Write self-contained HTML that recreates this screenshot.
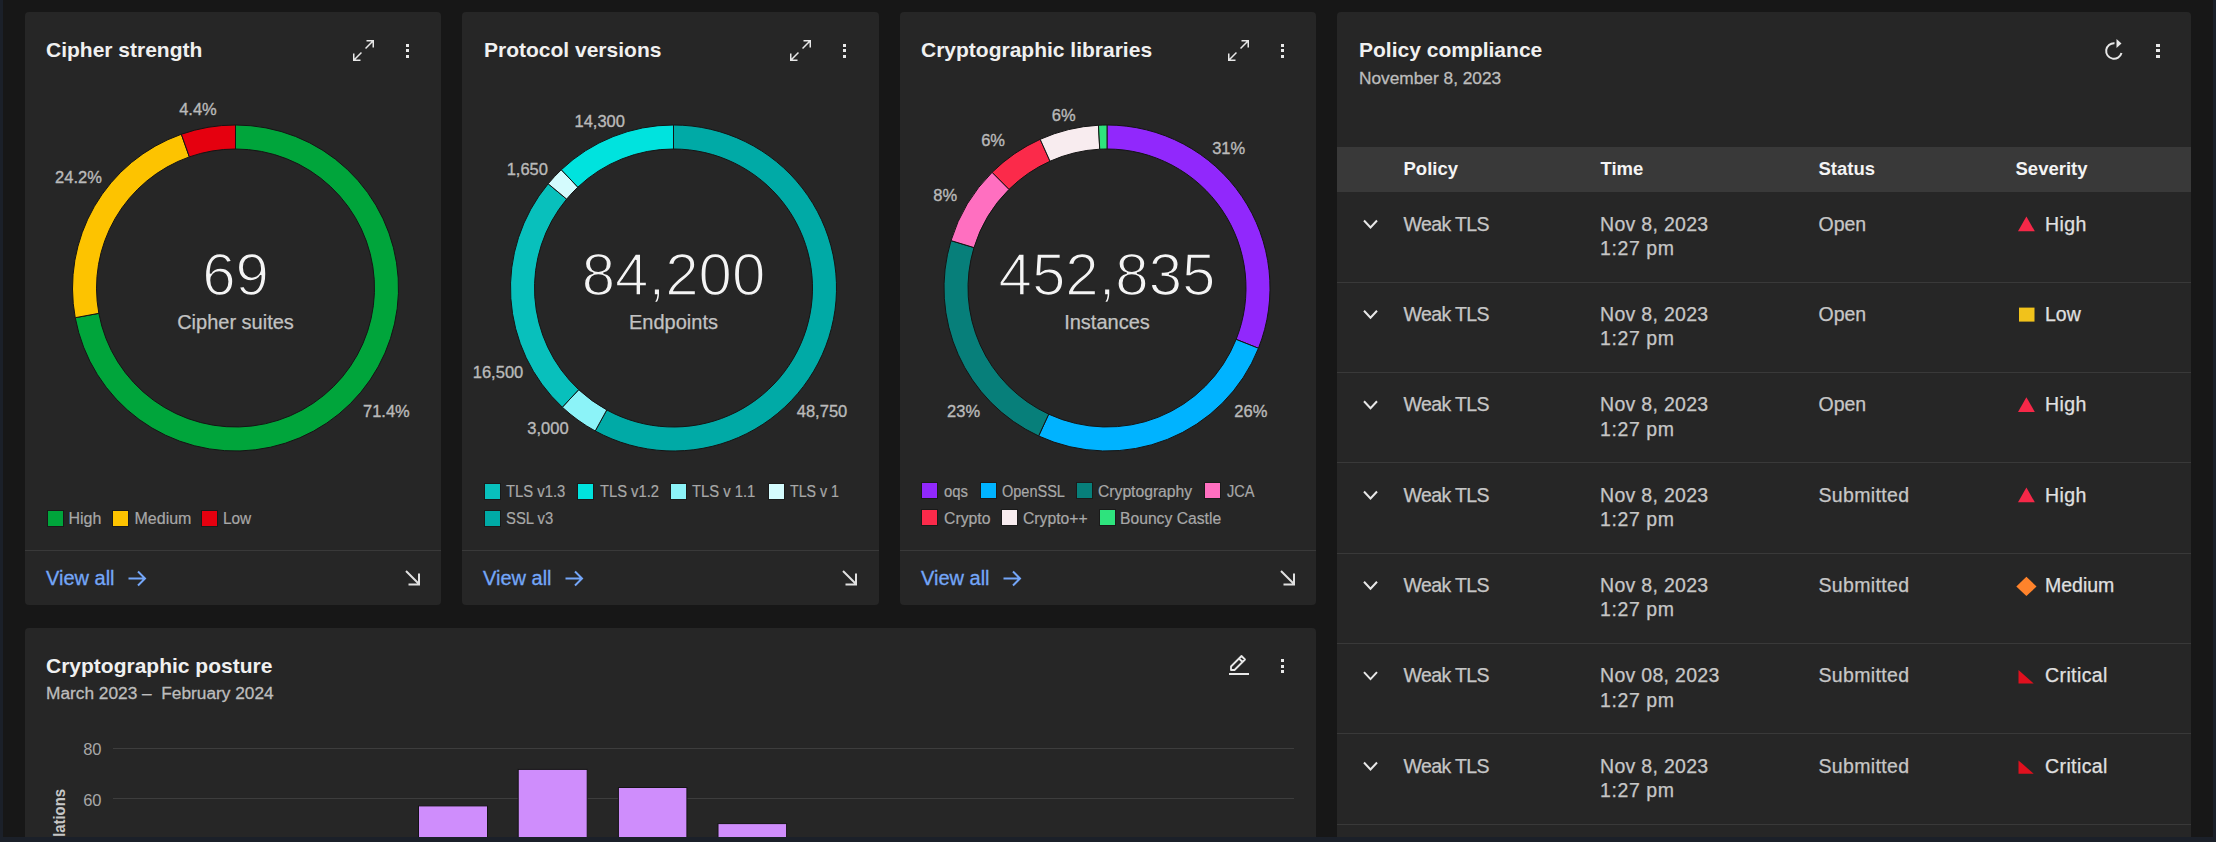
<!DOCTYPE html>
<html><head><meta charset="utf-8"><style>
html,body{margin:0;padding:0;}
body{width:2216px;height:842px;background:#171717;position:relative;overflow:hidden;font-family:"Liberation Sans", sans-serif;}
.t{position:absolute;white-space:nowrap;font-family:"Liberation Sans", sans-serif;}
svg{position:absolute;left:0;top:0;}
</style></head><body>
<div style="position:absolute;left:25px;top:12px;width:416px;height:593px;background:#262626;border-radius:4px;"></div><div style="position:absolute;left:462px;top:12px;width:417px;height:593px;background:#262626;border-radius:4px;"></div><div style="position:absolute;left:900px;top:12px;width:416px;height:593px;background:#262626;border-radius:4px;"></div><div style="position:absolute;left:1337px;top:12px;width:854px;height:830px;background:#262626;border-radius:4px;"></div><div style="position:absolute;left:25px;top:628px;width:1291px;height:220px;background:#262626;border-radius:4px;"></div>
<div class="t" style="left:46.0px;top:39.4px;font-size:21px;line-height:21px;font-weight:700;color:#f0f0f0;">Cipher strength</div><div class="t" style="left:484.0px;top:39.4px;font-size:21px;line-height:21px;font-weight:700;color:#f0f0f0;">Protocol versions</div><div class="t" style="left:921.0px;top:39.4px;font-size:21px;line-height:21px;font-weight:700;color:#f0f0f0;">Cryptographic libraries</div><div class="t" style="left:1359.0px;top:39.4px;font-size:21px;line-height:21px;font-weight:700;color:#f0f0f0;">Policy compliance</div><div class="t" style="left:1359.0px;top:69.9px;font-size:17.3px;line-height:17.3px;font-weight:400;color:#bdbdbd;-webkit-text-stroke:0.3px #bdbdbd;">November 8, 2023</div><div class="t" style="left:46.0px;top:654.6px;font-size:21px;line-height:21px;font-weight:700;color:#f0f0f0;">Cryptographic posture</div><div class="t" style="left:46.0px;top:685.4px;font-size:17.3px;line-height:17.3px;font-weight:400;color:#bdbdbd;-webkit-text-stroke:0.3px #bdbdbd;">March 2023 –&nbsp; February 2024</div><div class="t" style="left:-102.0px;width:600px;text-align:center;top:100.6px;font-size:16.5px;line-height:16.5px;font-weight:400;color:#bababa;-webkit-text-stroke:0.35px #bababa;">4.4%</div><div class="t" style="left:-221.5px;width:600px;text-align:center;top:168.9px;font-size:16.5px;line-height:16.5px;font-weight:400;color:#bababa;-webkit-text-stroke:0.35px #bababa;">24.2%</div><div class="t" style="left:86.4px;width:600px;text-align:center;top:403.1px;font-size:16.5px;line-height:16.5px;font-weight:400;color:#bababa;-webkit-text-stroke:0.35px #bababa;">71.4%</div><div class="t" style="left:299.7px;width:600px;text-align:center;top:112.7px;font-size:16.5px;line-height:16.5px;font-weight:400;color:#bababa;-webkit-text-stroke:0.35px #bababa;">14,300</div><div class="t" style="left:227.3px;width:600px;text-align:center;top:161.0px;font-size:16.5px;line-height:16.5px;font-weight:400;color:#bababa;-webkit-text-stroke:0.35px #bababa;">1,650</div><div class="t" style="left:198.0px;width:600px;text-align:center;top:364.0px;font-size:16.5px;line-height:16.5px;font-weight:400;color:#bababa;-webkit-text-stroke:0.35px #bababa;">16,500</div><div class="t" style="left:248.0px;width:600px;text-align:center;top:419.8px;font-size:16.5px;line-height:16.5px;font-weight:400;color:#bababa;-webkit-text-stroke:0.35px #bababa;">3,000</div><div class="t" style="left:522.0px;width:600px;text-align:center;top:403.0px;font-size:16.5px;line-height:16.5px;font-weight:400;color:#bababa;-webkit-text-stroke:0.35px #bababa;">48,750</div><div class="t" style="left:763.8px;width:600px;text-align:center;top:107.4px;font-size:16.5px;line-height:16.5px;font-weight:400;color:#bababa;-webkit-text-stroke:0.35px #bababa;">6%</div><div class="t" style="left:693.1px;width:600px;text-align:center;top:132.3px;font-size:16.5px;line-height:16.5px;font-weight:400;color:#bababa;-webkit-text-stroke:0.35px #bababa;">6%</div><div class="t" style="left:645.2px;width:600px;text-align:center;top:186.7px;font-size:16.5px;line-height:16.5px;font-weight:400;color:#bababa;-webkit-text-stroke:0.35px #bababa;">8%</div><div class="t" style="left:928.7px;width:600px;text-align:center;top:140.4px;font-size:16.5px;line-height:16.5px;font-weight:400;color:#bababa;-webkit-text-stroke:0.35px #bababa;">31%</div><div class="t" style="left:663.6px;width:600px;text-align:center;top:403.1px;font-size:16.5px;line-height:16.5px;font-weight:400;color:#bababa;-webkit-text-stroke:0.35px #bababa;">23%</div><div class="t" style="left:950.8px;width:600px;text-align:center;top:403.0px;font-size:16.5px;line-height:16.5px;font-weight:400;color:#bababa;-webkit-text-stroke:0.35px #bababa;">26%</div><div class="t" style="left:-64.5px;width:600px;text-align:center;top:244.7px;font-size:60px;line-height:60px;font-weight:400;color:#f4f4f4;-webkit-text-stroke:1.6px #262626;">69</div><div class="t" style="left:-64.5px;width:600px;text-align:center;top:312.1px;font-size:20px;line-height:20px;font-weight:400;color:#c2c2c2;-webkit-text-stroke:0.25px #c2c2c2;">Cipher suites</div><div class="t" style="left:373.5px;width:600px;text-align:center;top:244.7px;font-size:60px;line-height:60px;font-weight:400;color:#f4f4f4;-webkit-text-stroke:1.6px #262626;">84,200</div><div class="t" style="left:373.5px;width:600px;text-align:center;top:312.1px;font-size:20px;line-height:20px;font-weight:400;color:#c2c2c2;-webkit-text-stroke:0.25px #c2c2c2;">Endpoints</div><div class="t" style="left:807.0px;width:600px;text-align:center;top:244.7px;font-size:60px;line-height:60px;font-weight:400;color:#f4f4f4;-webkit-text-stroke:1.6px #262626;">452,835</div><div class="t" style="left:807.0px;width:600px;text-align:center;top:312.1px;font-size:20px;line-height:20px;font-weight:400;color:#c2c2c2;-webkit-text-stroke:0.25px #c2c2c2;">Instances</div><div style="position:absolute;left:46.5px;top:509.5px;width:17px;height:17px;background:#00a53b;box-sizing:border-box;border:1px solid #1a1a1a;"></div><div class="t" style="left:68.5px;top:510.8px;font-size:16px;line-height:16px;font-weight:400;color:#a8a8a8;-webkit-text-stroke:0.2px #a8a8a8;transform:scaleX(1.0);transform-origin:0 0;">High</div><div style="position:absolute;left:112px;top:509.5px;width:17px;height:17px;background:#fdc300;box-sizing:border-box;border:1px solid #1a1a1a;"></div><div class="t" style="left:134.5px;top:510.8px;font-size:16px;line-height:16px;font-weight:400;color:#a8a8a8;-webkit-text-stroke:0.2px #a8a8a8;transform:scaleX(1.0);transform-origin:0 0;">Medium</div><div style="position:absolute;left:201px;top:509.5px;width:17px;height:17px;background:#e5000f;box-sizing:border-box;border:1px solid #1a1a1a;"></div><div class="t" style="left:223.0px;top:510.8px;font-size:16px;line-height:16px;font-weight:400;color:#a8a8a8;-webkit-text-stroke:0.2px #a8a8a8;transform:scaleX(0.96);transform-origin:0 0;">Low</div><div style="position:absolute;left:484px;top:482.5px;width:17px;height:17px;background:#08c0bc;box-sizing:border-box;border:1px solid #1a1a1a;"></div><div class="t" style="left:506.0px;top:483.5px;font-size:16px;line-height:16px;font-weight:400;color:#a8a8a8;-webkit-text-stroke:0.2px #a8a8a8;transform:scaleX(0.925);transform-origin:0 0;">TLS v1.3</div><div style="position:absolute;left:577px;top:482.5px;width:17px;height:17px;background:#00e3de;box-sizing:border-box;border:1px solid #1a1a1a;"></div><div class="t" style="left:599.5px;top:483.5px;font-size:16px;line-height:16px;font-weight:400;color:#a8a8a8;-webkit-text-stroke:0.2px #a8a8a8;transform:scaleX(0.92);transform-origin:0 0;">TLS v1.2</div><div style="position:absolute;left:670.3px;top:482.5px;width:17px;height:17px;background:#8cf3f8;box-sizing:border-box;border:1px solid #1a1a1a;"></div><div class="t" style="left:692.0px;top:483.5px;font-size:16px;line-height:16px;font-weight:400;color:#a8a8a8;-webkit-text-stroke:0.2px #a8a8a8;transform:scaleX(0.925);transform-origin:0 0;">TLS v 1.1</div><div style="position:absolute;left:767.5px;top:482.5px;width:17px;height:17px;background:#d4fbfd;box-sizing:border-box;border:1px solid #1a1a1a;"></div><div class="t" style="left:789.5px;top:483.5px;font-size:16px;line-height:16px;font-weight:400;color:#a8a8a8;-webkit-text-stroke:0.2px #a8a8a8;transform:scaleX(0.887);transform-origin:0 0;">TLS v 1</div><div style="position:absolute;left:484px;top:510px;width:17px;height:17px;background:#00aaa6;box-sizing:border-box;border:1px solid #1a1a1a;"></div><div class="t" style="left:506.0px;top:511.0px;font-size:16px;line-height:16px;font-weight:400;color:#a8a8a8;-webkit-text-stroke:0.2px #a8a8a8;transform:scaleX(0.926);transform-origin:0 0;">SSL v3</div><div style="position:absolute;left:921.4px;top:482.3px;width:17px;height:17px;background:#9128fc;box-sizing:border-box;border:1px solid #1a1a1a;"></div><div class="t" style="left:943.5px;top:483.5px;font-size:16px;line-height:16px;font-weight:400;color:#a8a8a8;-webkit-text-stroke:0.2px #a8a8a8;transform:scaleX(0.93);transform-origin:0 0;">oqs</div><div style="position:absolute;left:980.2px;top:482.3px;width:17px;height:17px;background:#00b3ff;box-sizing:border-box;border:1px solid #1a1a1a;"></div><div class="t" style="left:1002.0px;top:483.5px;font-size:16px;line-height:16px;font-weight:400;color:#a8a8a8;-webkit-text-stroke:0.2px #a8a8a8;transform:scaleX(0.906);transform-origin:0 0;">OpenSSL</div><div style="position:absolute;left:1076px;top:482.3px;width:17px;height:17px;background:#077f7a;box-sizing:border-box;border:1px solid #1a1a1a;"></div><div class="t" style="left:1098.0px;top:483.5px;font-size:16px;line-height:16px;font-weight:400;color:#a8a8a8;-webkit-text-stroke:0.2px #a8a8a8;transform:scaleX(0.98);transform-origin:0 0;">Cryptography</div><div style="position:absolute;left:1204.4px;top:482.3px;width:17px;height:17px;background:#ff6fc0;box-sizing:border-box;border:1px solid #1a1a1a;"></div><div class="t" style="left:1226.5px;top:483.5px;font-size:16px;line-height:16px;font-weight:400;color:#a8a8a8;-webkit-text-stroke:0.2px #a8a8a8;transform:scaleX(0.91);transform-origin:0 0;">JCA</div><div style="position:absolute;left:921.4px;top:509.4px;width:17px;height:17px;background:#fb2a4a;box-sizing:border-box;border:1px solid #1a1a1a;"></div><div class="t" style="left:943.5px;top:510.8px;font-size:16px;line-height:16px;font-weight:400;color:#a8a8a8;-webkit-text-stroke:0.2px #a8a8a8;transform:scaleX(0.985);transform-origin:0 0;">Crypto</div><div style="position:absolute;left:1000.5px;top:509.4px;width:17px;height:17px;background:#f8ecef;box-sizing:border-box;border:1px solid #1a1a1a;"></div><div class="t" style="left:1022.5px;top:510.8px;font-size:16px;line-height:16px;font-weight:400;color:#a8a8a8;-webkit-text-stroke:0.2px #a8a8a8;transform:scaleX(0.983);transform-origin:0 0;">Crypto++</div><div style="position:absolute;left:1098.8px;top:509.4px;width:17px;height:17px;background:#2ee37d;box-sizing:border-box;border:1px solid #1a1a1a;"></div><div class="t" style="left:1120.0px;top:510.8px;font-size:16px;line-height:16px;font-weight:400;color:#a8a8a8;-webkit-text-stroke:0.2px #a8a8a8;transform:scaleX(0.98);transform-origin:0 0;">Bouncy Castle</div><div style="position:absolute;left:25px;top:550px;width:416px;height:1px;background:#393939;"></div><div class="t" style="left:46.0px;top:568.4px;font-size:20px;line-height:20px;font-weight:400;color:#74a6f8;-webkit-text-stroke:0.3px #74a6f8;">View all</div><div style="position:absolute;left:462px;top:550px;width:417px;height:1px;background:#393939;"></div><div class="t" style="left:483.0px;top:568.4px;font-size:20px;line-height:20px;font-weight:400;color:#74a6f8;-webkit-text-stroke:0.3px #74a6f8;">View all</div><div style="position:absolute;left:900px;top:550px;width:416px;height:1px;background:#393939;"></div><div class="t" style="left:921.0px;top:568.4px;font-size:20px;line-height:20px;font-weight:400;color:#74a6f8;-webkit-text-stroke:0.3px #74a6f8;">View all</div><div style="position:absolute;left:405.85px;top:43.5px;width:3.5px;height:3px;background:#e8e8e8;"></div><div style="position:absolute;left:405.85px;top:49.1px;width:3.5px;height:3px;background:#e8e8e8;"></div><div style="position:absolute;left:405.85px;top:54.7px;width:3.5px;height:3px;background:#e8e8e8;"></div><div style="position:absolute;left:842.85px;top:43.5px;width:3.5px;height:3px;background:#e8e8e8;"></div><div style="position:absolute;left:842.85px;top:49.1px;width:3.5px;height:3px;background:#e8e8e8;"></div><div style="position:absolute;left:842.85px;top:54.7px;width:3.5px;height:3px;background:#e8e8e8;"></div><div style="position:absolute;left:1280.85px;top:43.5px;width:3.5px;height:3px;background:#e8e8e8;"></div><div style="position:absolute;left:1280.85px;top:49.1px;width:3.5px;height:3px;background:#e8e8e8;"></div><div style="position:absolute;left:1280.85px;top:54.7px;width:3.5px;height:3px;background:#e8e8e8;"></div><div style="position:absolute;left:2156.25px;top:43.5px;width:3.5px;height:3px;background:#e8e8e8;"></div><div style="position:absolute;left:2156.25px;top:49.1px;width:3.5px;height:3px;background:#e8e8e8;"></div><div style="position:absolute;left:2156.25px;top:54.7px;width:3.5px;height:3px;background:#e8e8e8;"></div><div style="position:absolute;left:1280.95px;top:659.0px;width:3.5px;height:3px;background:#e8e8e8;"></div><div style="position:absolute;left:1280.95px;top:664.6px;width:3.5px;height:3px;background:#e8e8e8;"></div><div style="position:absolute;left:1280.95px;top:670.2px;width:3.5px;height:3px;background:#e8e8e8;"></div><div style="position:absolute;left:1337px;top:147px;width:854px;height:45px;background:#393939;"></div><div class="t" style="left:1403.5px;top:160.3px;font-size:18.5px;line-height:18.5px;font-weight:700;color:#f4f4f4;">Policy</div><div class="t" style="left:1600.5px;top:160.3px;font-size:18.5px;line-height:18.5px;font-weight:700;color:#f4f4f4;">Time</div><div class="t" style="left:1818.5px;top:160.3px;font-size:18.5px;line-height:18.5px;font-weight:700;color:#f4f4f4;">Status</div><div class="t" style="left:2015.5px;top:160.3px;font-size:18.5px;line-height:18.5px;font-weight:700;color:#f4f4f4;">Severity</div><div class="t" style="left:1403.5px;top:214.7px;font-size:19.5px;line-height:19.5px;font-weight:400;color:#c6c6c6;letter-spacing:-0.6px;-webkit-text-stroke:0.25px #c6c6c6;">Weak TLS</div><div class="t" style="left:1600.0px;top:214.7px;font-size:19.5px;line-height:19.5px;font-weight:400;color:#c6c6c6;letter-spacing:0.3px;-webkit-text-stroke:0.25px #c6c6c6;">Nov 8, 2023</div><div class="t" style="left:1600.0px;top:239.0px;font-size:19.5px;line-height:19.5px;font-weight:400;color:#c6c6c6;letter-spacing:0.6px;-webkit-text-stroke:0.25px #c6c6c6;">1:27 pm</div><div class="t" style="left:1818.5px;top:214.7px;font-size:19.5px;line-height:19.5px;font-weight:400;color:#c6c6c6;-webkit-text-stroke:0.25px #c6c6c6;">Open</div><div class="t" style="left:2045.0px;top:214.7px;font-size:19.5px;line-height:19.5px;font-weight:400;color:#e0e0e0;letter-spacing:0.4px;-webkit-text-stroke:0.25px #e0e0e0;">High</div><div style="position:absolute;left:1337px;top:282px;width:854px;height:1px;background:#393939;"></div><div class="t" style="left:1403.5px;top:305.0px;font-size:19.5px;line-height:19.5px;font-weight:400;color:#c6c6c6;letter-spacing:-0.6px;-webkit-text-stroke:0.25px #c6c6c6;">Weak TLS</div><div class="t" style="left:1600.0px;top:305.0px;font-size:19.5px;line-height:19.5px;font-weight:400;color:#c6c6c6;letter-spacing:0.3px;-webkit-text-stroke:0.25px #c6c6c6;">Nov 8, 2023</div><div class="t" style="left:1600.0px;top:329.3px;font-size:19.5px;line-height:19.5px;font-weight:400;color:#c6c6c6;letter-spacing:0.6px;-webkit-text-stroke:0.25px #c6c6c6;">1:27 pm</div><div class="t" style="left:1818.5px;top:305.0px;font-size:19.5px;line-height:19.5px;font-weight:400;color:#c6c6c6;-webkit-text-stroke:0.25px #c6c6c6;">Open</div><div class="t" style="left:2045.0px;top:305.0px;font-size:19.5px;line-height:19.5px;font-weight:400;color:#e0e0e0;-webkit-text-stroke:0.25px #e0e0e0;">Low</div><div style="position:absolute;left:1337px;top:372px;width:854px;height:1px;background:#393939;"></div><div class="t" style="left:1403.5px;top:395.4px;font-size:19.5px;line-height:19.5px;font-weight:400;color:#c6c6c6;letter-spacing:-0.6px;-webkit-text-stroke:0.25px #c6c6c6;">Weak TLS</div><div class="t" style="left:1600.0px;top:395.4px;font-size:19.5px;line-height:19.5px;font-weight:400;color:#c6c6c6;letter-spacing:0.3px;-webkit-text-stroke:0.25px #c6c6c6;">Nov 8, 2023</div><div class="t" style="left:1600.0px;top:419.7px;font-size:19.5px;line-height:19.5px;font-weight:400;color:#c6c6c6;letter-spacing:0.6px;-webkit-text-stroke:0.25px #c6c6c6;">1:27 pm</div><div class="t" style="left:1818.5px;top:395.4px;font-size:19.5px;line-height:19.5px;font-weight:400;color:#c6c6c6;-webkit-text-stroke:0.25px #c6c6c6;">Open</div><div class="t" style="left:2045.0px;top:395.4px;font-size:19.5px;line-height:19.5px;font-weight:400;color:#e0e0e0;letter-spacing:0.4px;-webkit-text-stroke:0.25px #e0e0e0;">High</div><div style="position:absolute;left:1337px;top:462px;width:854px;height:1px;background:#393939;"></div><div class="t" style="left:1403.5px;top:485.7px;font-size:19.5px;line-height:19.5px;font-weight:400;color:#c6c6c6;letter-spacing:-0.6px;-webkit-text-stroke:0.25px #c6c6c6;">Weak TLS</div><div class="t" style="left:1600.0px;top:485.7px;font-size:19.5px;line-height:19.5px;font-weight:400;color:#c6c6c6;letter-spacing:0.3px;-webkit-text-stroke:0.25px #c6c6c6;">Nov 8, 2023</div><div class="t" style="left:1600.0px;top:510.0px;font-size:19.5px;line-height:19.5px;font-weight:400;color:#c6c6c6;letter-spacing:0.6px;-webkit-text-stroke:0.25px #c6c6c6;">1:27 pm</div><div class="t" style="left:1818.5px;top:485.7px;font-size:19.5px;line-height:19.5px;font-weight:400;color:#c6c6c6;letter-spacing:0.35px;-webkit-text-stroke:0.25px #c6c6c6;">Submitted</div><div class="t" style="left:2045.0px;top:485.7px;font-size:19.5px;line-height:19.5px;font-weight:400;color:#e0e0e0;letter-spacing:0.4px;-webkit-text-stroke:0.25px #e0e0e0;">High</div><div style="position:absolute;left:1337px;top:553px;width:854px;height:1px;background:#393939;"></div><div class="t" style="left:1403.5px;top:576.0px;font-size:19.5px;line-height:19.5px;font-weight:400;color:#c6c6c6;letter-spacing:-0.6px;-webkit-text-stroke:0.25px #c6c6c6;">Weak TLS</div><div class="t" style="left:1600.0px;top:576.0px;font-size:19.5px;line-height:19.5px;font-weight:400;color:#c6c6c6;letter-spacing:0.3px;-webkit-text-stroke:0.25px #c6c6c6;">Nov 8, 2023</div><div class="t" style="left:1600.0px;top:600.3px;font-size:19.5px;line-height:19.5px;font-weight:400;color:#c6c6c6;letter-spacing:0.6px;-webkit-text-stroke:0.25px #c6c6c6;">1:27 pm</div><div class="t" style="left:1818.5px;top:576.0px;font-size:19.5px;line-height:19.5px;font-weight:400;color:#c6c6c6;letter-spacing:0.35px;-webkit-text-stroke:0.25px #c6c6c6;">Submitted</div><div class="t" style="left:2045.0px;top:576.0px;font-size:19.5px;line-height:19.5px;font-weight:400;color:#e0e0e0;-webkit-text-stroke:0.25px #e0e0e0;">Medium</div><div style="position:absolute;left:1337px;top:643px;width:854px;height:1px;background:#393939;"></div><div class="t" style="left:1403.5px;top:666.3px;font-size:19.5px;line-height:19.5px;font-weight:400;color:#c6c6c6;letter-spacing:-0.6px;-webkit-text-stroke:0.25px #c6c6c6;">Weak TLS</div><div class="t" style="left:1600.0px;top:666.3px;font-size:19.5px;line-height:19.5px;font-weight:400;color:#c6c6c6;letter-spacing:0.3px;-webkit-text-stroke:0.25px #c6c6c6;">Nov 08, 2023</div><div class="t" style="left:1600.0px;top:690.6px;font-size:19.5px;line-height:19.5px;font-weight:400;color:#c6c6c6;letter-spacing:0.6px;-webkit-text-stroke:0.25px #c6c6c6;">1:27 pm</div><div class="t" style="left:1818.5px;top:666.3px;font-size:19.5px;line-height:19.5px;font-weight:400;color:#c6c6c6;letter-spacing:0.35px;-webkit-text-stroke:0.25px #c6c6c6;">Submitted</div><div class="t" style="left:2045.0px;top:666.3px;font-size:19.5px;line-height:19.5px;font-weight:400;color:#e0e0e0;letter-spacing:0.4px;-webkit-text-stroke:0.25px #e0e0e0;">Critical</div><div style="position:absolute;left:1337px;top:733px;width:854px;height:1px;background:#393939;"></div><div class="t" style="left:1403.5px;top:756.7px;font-size:19.5px;line-height:19.5px;font-weight:400;color:#c6c6c6;letter-spacing:-0.6px;-webkit-text-stroke:0.25px #c6c6c6;">Weak TLS</div><div class="t" style="left:1600.0px;top:756.7px;font-size:19.5px;line-height:19.5px;font-weight:400;color:#c6c6c6;letter-spacing:0.3px;-webkit-text-stroke:0.25px #c6c6c6;">Nov 8, 2023</div><div class="t" style="left:1600.0px;top:781.0px;font-size:19.5px;line-height:19.5px;font-weight:400;color:#c6c6c6;letter-spacing:0.6px;-webkit-text-stroke:0.25px #c6c6c6;">1:27 pm</div><div class="t" style="left:1818.5px;top:756.7px;font-size:19.5px;line-height:19.5px;font-weight:400;color:#c6c6c6;letter-spacing:0.35px;-webkit-text-stroke:0.25px #c6c6c6;">Submitted</div><div class="t" style="left:2045.0px;top:756.7px;font-size:19.5px;line-height:19.5px;font-weight:400;color:#e0e0e0;letter-spacing:0.4px;-webkit-text-stroke:0.25px #e0e0e0;">Critical</div><div style="position:absolute;left:1337px;top:824px;width:854px;height:1px;background:#393939;"></div><div class="t" style="left:-498.5px;width:600px;text-align:right;top:741.0px;font-size:16.5px;line-height:16.5px;font-weight:400;color:#a8a8a8;">80</div><div class="t" style="left:-498.5px;width:600px;text-align:right;top:791.5px;font-size:16.5px;line-height:16.5px;font-weight:400;color:#a8a8a8;">60</div><div style="position:absolute;left:113px;top:748px;width:1181px;height:1px;background:#3d3d3d;"></div><div style="position:absolute;left:113px;top:798px;width:1181px;height:1px;background:#3d3d3d;"></div><div class="t" style="left:50px;top:789px;width:20px;height:48px;overflow:hidden;"><div style="position:absolute;right:0;top:0;width:200px;text-align:right;transform-origin:100% 0;transform:translateX(-19px) rotate(-90deg) scaleX(0.9);font-size:16.5px;line-height:16px;font-weight:700;color:#c6c6c6;white-space:nowrap;">Violations</div></div>
<svg width="2216" height="842" viewBox="0 0 2216 842"><path d="M235.50,125.00 A163,163 0 1 1 75.23,317.70 L98.83,313.33 A139,139 0 1 0 235.50,149.00 Z" fill="#00a53b" stroke="#141414" stroke-width="1"/><path d="M75.23,317.70 A163,163 0 0 1 181.36,134.25 L189.33,156.89 A139,139 0 0 0 98.83,313.33 Z" fill="#fdc300" stroke="#141414" stroke-width="1"/><path d="M181.36,134.25 A163,163 0 0 1 235.50,125.00 L235.50,149.00 A139,139 0 0 0 189.33,156.89 Z" fill="#e5000f" stroke="#141414" stroke-width="1"/><path d="M673.50,125.00 A163,163 0 1 1 595.22,430.97 L606.75,409.92 A139,139 0 1 0 673.50,149.00 Z" fill="#00aaa6" stroke="#141414" stroke-width="1"/><path d="M595.22,430.97 A163,163 0 0 1 562.33,407.21 L578.70,389.66 A139,139 0 0 0 606.75,409.92 Z" fill="#8cf3f8" stroke="#141414" stroke-width="1"/><path d="M562.33,407.21 A163,163 0 0 1 548.18,183.77 L566.63,199.12 A139,139 0 0 0 578.70,389.66 Z" fill="#08c0bc" stroke="#141414" stroke-width="1"/><path d="M548.18,183.77 A163,163 0 0 1 561.30,169.76 L577.82,187.17 A139,139 0 0 0 566.63,199.12 Z" fill="#d4fbfd" stroke="#141414" stroke-width="1"/><path d="M561.30,169.76 A163,163 0 0 1 673.50,125.00 L673.50,149.00 A139,139 0 0 0 577.82,187.17 Z" fill="#00e3de" stroke="#141414" stroke-width="1"/><path d="M1107.00,125.00 A163,163 0 0 1 1258.45,348.27 L1236.15,339.39 A139,139 0 0 0 1107.00,149.00 Z" fill="#9128fc" stroke="#141414" stroke-width="1"/><path d="M1258.45,348.27 A163,163 0 0 1 1038.63,435.97 L1048.70,414.18 A139,139 0 0 0 1236.15,339.39 Z" fill="#00b3ff" stroke="#141414" stroke-width="1"/><path d="M1038.63,435.97 A163,163 0 0 1 951.04,240.62 L974.00,247.59 A139,139 0 0 0 1048.70,414.18 Z" fill="#077f7a" stroke="#141414" stroke-width="1"/><path d="M951.04,240.62 A163,163 0 0 1 992.14,172.34 L1009.06,189.37 A139,139 0 0 0 974.00,247.59 Z" fill="#ff6fc0" stroke="#141414" stroke-width="1"/><path d="M992.14,172.34 A163,163 0 0 1 1040.18,139.32 L1050.02,161.22 A139,139 0 0 0 1009.06,189.37 Z" fill="#fb2a4a" stroke="#141414" stroke-width="1"/><path d="M1040.18,139.32 A163,163 0 0 1 1098.47,125.22 L1099.73,149.19 A139,139 0 0 0 1050.02,161.22 Z" fill="#f8ecef" stroke="#141414" stroke-width="1"/><path d="M1098.47,125.22 A163,163 0 0 1 1107.00,125.00 L1107.00,149.00 A139,139 0 0 0 1099.73,149.19 Z" fill="#2ee37d" stroke="#141414" stroke-width="1"/><path d="M128.5,578.5 H145 M138,571.5 L145,578.5 L138,585.5" fill="none" stroke="#74a6f8" stroke-width="2"/><path d="M406,571 L419,584 M419,573.5 V585 M408.5,584.5 H420" fill="none" stroke="#e0e0e0" stroke-width="2"/><path d="M565.5,578.5 H582 M575,571.5 L582,578.5 L575,585.5" fill="none" stroke="#74a6f8" stroke-width="2"/><path d="M843,571 L856,584 M856,573.5 V585 M845.5,584.5 H857" fill="none" stroke="#e0e0e0" stroke-width="2"/><path d="M1003.5,578.5 H1020 M1013,571.5 L1020,578.5 L1013,585.5" fill="none" stroke="#74a6f8" stroke-width="2"/><path d="M1281,571 L1294,584 M1294,573.5 V585 M1283.5,584.5 H1295" fill="none" stroke="#e0e0e0" stroke-width="2"/><g transform="translate(351.5,38.5) scale(0.75)"><path d="M20 2L20 4 26.59 4 18 12.58 19.41 14 28 5.41 28 12 30 12 30 2 20 2z" fill="#e8e8e8"/><path d="M14 19.41L12.59 18 4 26.59 4 20 2 20 2 30 12 30 12 28 5.41 28 14 19.41z" fill="#e8e8e8"/></g><g transform="translate(788.5,38.5) scale(0.75)"><path d="M20 2L20 4 26.59 4 18 12.58 19.41 14 28 5.41 28 12 30 12 30 2 20 2z" fill="#e8e8e8"/><path d="M14 19.41L12.59 18 4 26.59 4 20 2 20 2 30 12 30 12 28 5.41 28 14 19.41z" fill="#e8e8e8"/></g><g transform="translate(1226.5,38.5) scale(0.75)"><path d="M20 2L20 4 26.59 4 18 12.58 19.41 14 28 5.41 28 12 30 12 30 2 20 2z" fill="#e8e8e8"/><path d="M14 19.41L12.59 18 4 26.59 4 20 2 20 2 30 12 30 12 28 5.41 28 14 19.41z" fill="#e8e8e8"/></g><path d="M2121.5,53 A7.8,7.8 0 1 1 2114.5,43.2" fill="none" stroke="#e8e8e8" stroke-width="2"/><path d="M2116.5,39 L2121.5,43.5 L2116.5,48 Z" fill="#e8e8e8"/><path d="M1229,674 H1249" stroke="#e8e8e8" stroke-width="2" fill="none"/><path d="M1231,670 L1231,666.5 L1241.5,656 L1245,659.5 L1234.5,670 Z M1239,658.5 L1242.5,662" stroke="#e8e8e8" stroke-width="1.8" fill="none" stroke-linejoin="round"/><path d="M1364,220.5 L1370.5,227.5 L1377,220.5" fill="none" stroke="#e8e8e8" stroke-width="2"/><path d="M2026.4,216.5 L2034.8,231.3 L2018,231.3 Z" fill="#f62848"/><path d="M1364,310.8 L1370.5,317.8 L1377,310.8" fill="none" stroke="#e8e8e8" stroke-width="2"/><rect x="2019" y="307.6" width="15.5" height="14" fill="#f1c21b"/><path d="M1364,401.2 L1370.5,408.2 L1377,401.2" fill="none" stroke="#e8e8e8" stroke-width="2"/><path d="M2026.4,397.2 L2034.8,412.0 L2018,412.0 Z" fill="#f62848"/><path d="M1364,491.5 L1370.5,498.5 L1377,491.5" fill="none" stroke="#e8e8e8" stroke-width="2"/><path d="M2026.4,487.5 L2034.8,502.3 L2018,502.3 Z" fill="#f62848"/><path d="M1364,581.8 L1370.5,588.8 L1377,581.8" fill="none" stroke="#e8e8e8" stroke-width="2"/><path d="M2026.4,576.7 L2036.5,586.5 L2026.4,596.1 L2016.3,586.5 Z" fill="#ff832b"/><path d="M1364,672.1 L1370.5,679.1 L1377,672.1" fill="none" stroke="#e8e8e8" stroke-width="2"/><path d="M2018.5,670.0 L2033.7,683.4 L2018.5,683.4 Z" fill="#e0101e"/><path d="M1364,762.5 L1370.5,769.5 L1377,762.5" fill="none" stroke="#e8e8e8" stroke-width="2"/><path d="M2018.5,760.4 L2033.7,773.7 L2018.5,773.7 Z" fill="#e0101e"/><rect x="418.5" y="805.9" width="69" height="41.10000000000002" fill="#cf8dfc" stroke="#141414" stroke-width="1"/><rect x="518.2" y="769.4" width="69" height="77.60000000000002" fill="#cf8dfc" stroke="#141414" stroke-width="1"/><rect x="618.4" y="787.5" width="68.5" height="59.5" fill="#cf8dfc" stroke="#141414" stroke-width="1"/><rect x="718" y="823.6" width="68.6" height="23.399999999999977" fill="#cf8dfc" stroke="#141414" stroke-width="1"/></svg>
<div style="position:absolute;left:0;top:0;width:3px;height:842px;background:#1b2029"></div>
<div style="position:absolute;left:2213px;top:0;width:3px;height:842px;background:#1b2029"></div>
<div style="position:absolute;left:0;top:837px;width:2216px;height:5px;background:#1b2029"></div>
</body></html>
